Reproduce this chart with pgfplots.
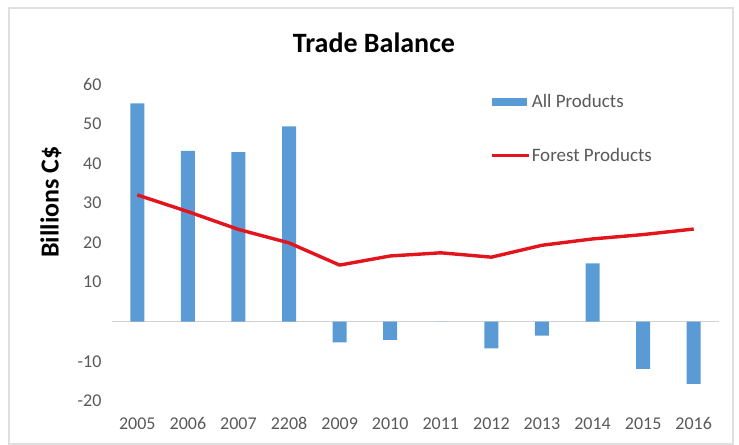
\documentclass[border=0pt]{standalone}
\usepackage{pgfplots}
\pgfplotsset{compat=1.18}
\usepackage{fontspec}
\setmainfont{Carlito}
\definecolor{barblue}{RGB}{91,155,213}
\definecolor{linered}{RGB}{226,20,28}
\definecolor{ticgray}{RGB}{89,89,89}
\begin{document}
\begin{tikzpicture}[x=1bp,y=1bp]
\begin{axis}[
  scale only axis,
  width=607bp, height=317bp,
  xmin=-0.5, xmax=11.5,
  ymin=-20, ymax=60,
  xtick={0,...,11},
  xticklabels={2005,2006,2007,2208,2009,2010,2011,2012,2013,2014,2015,2016},
  ytick={-20,-10,10,20,30,40,50,60},
  axis line style={draw=none},
  tick style={draw=none},
  ticklabel style={font=\fontsize{18bp}{21bp}\selectfont, text=ticgray},
  /pgf/number format/assume math mode=true,
  xticklabel style={yshift=-13bp},
  yticklabel style={xshift=-7bp},
  extra y ticks={0},
  extra y tick labels={},
  extra y tick style={grid=major, major grid style={draw=gray!35, line width=0.8bp}},
  legend style={at={(0.623,0.97)}, anchor=north west, draw=none, fill=none,
    font=\fontsize{19bp}{22bp}\selectfont, text=ticgray, row sep=37bp,
    inner sep=0pt, nodes={inner sep=1bp}},
  legend cell align=left,
]
\addplot[ybar, bar width=14bp, fill=barblue, draw=none,
  legend image code/.code={\fill[barblue] (0bp,-4bp) rectangle (35bp,4bp);}]
  coordinates {(0,55.1) (1,43.1) (2,42.8) (3,49.3) (4,-5.2) (5,-4.6) (6,0) (7,-6.7) (8,-3.5) (9,14.7) (10,-11.9) (11,-15.7)};
\addlegendentry{All Products}
\addplot[linered, line width=3.4bp, line join=round,
  legend image code/.code={\draw[linered, line width=3.4bp] (0bp,0bp) -- (37bp,0bp);}]
  coordinates {(0,32.0) (1,27.8) (2,23.3) (3,19.9) (4,14.3) (5,16.6) (6,17.4) (7,16.3) (8,19.3) (9,20.9) (10,22.0) (11,23.4)};
\addlegendentry{Forest Products}
\end{axis}
\node[font=\fontsize{28bp}{32bp}\selectfont\bfseries] at (262bp,358bp) {Trade Balance};
\node[font=\fontsize{26bp}{30bp}\selectfont\bfseries, rotate=90] at (-61bp,199bp) {Billions C\$};
\draw[gray!25, line width=1.2bp] (-103bp,-43bp) rectangle (621bp,393bp);
\path (-112bp,-44bp) rectangle (627bp,401bp);
\end{tikzpicture}
\end{document}
